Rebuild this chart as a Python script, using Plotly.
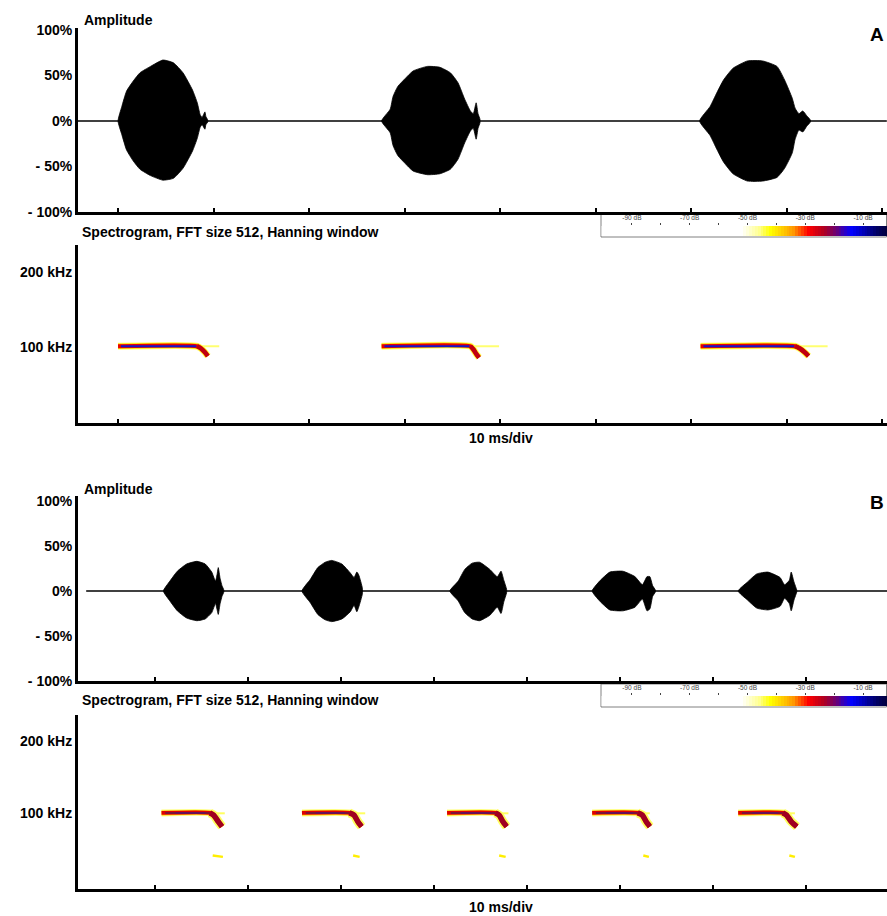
import plotly.graph_objects as go

W, H = 887, 916

# ---------------- DATA ----------------
# Panel A oscillogram: pulse envelopes (time in ms, amplitude in %)
a_pulse_times = [
    [0.0, 0.4, 0.9, 1.6, 2.3, 3.4, 4.7, 5.8, 6.8, 7.8, 8.3, 8.6, 8.8, 9.1, 9.2, 9.4],
    [27.6, 28.5, 28.8, 29.3, 30.1, 30.9, 32.4, 33.7, 34.8, 35.6, 36.3, 36.9, 37.2, 37.5, 37.7, 37.9],
    [60.9, 62.0, 62.7, 63.4, 64.4, 65.9, 67.5, 69.0, 69.8, 70.6, 70.9, 71.3, 71.7, 72.1, 72.5],
]
a_pulse_upper = [
    [0, 16, 33, 44, 53, 60, 67, 64, 53, 34, 20, 7, 4, 10, 5, 1],
    [0, 13, 27, 38, 47, 55, 60, 59, 53, 42, 24, 11, 8, 20, 8, 2],
    [0, 16, 31, 45, 58, 66, 66, 60, 45, 25, 14, 8, 11, 6, 1],
]
a_pulse_lower = [
    [0, -15, -32, -44, -53, -60, -65, -63, -52, -33, -19, -7, -4, -9, -4, -1],
    [0, -13, -27, -38, -47, -55, -59, -58, -53, -42, -24, -11, -8, -20, -8, -2],
    [0, -16, -31, -45, -58, -66, -66, -62, -52, -35, -20, -10, -12, -6, -1],
]
a_baseline_t = [-4.2, 80.5]

# Panel B oscillogram
b_pulse_times = [
    [0.9, 1.6, 2.4, 3.4, 4.5, 5.4, 6.1, 6.5, 6.7, 6.8, 7.0, 7.2, 7.4],
    [15.8, 16.7, 17.5, 18.3, 19.0, 20.1, 21.0, 21.4, 21.7, 21.9, 22.3],
    [31.7, 32.6, 33.3, 34.1, 34.9, 36.0, 36.8, 37.2, 37.5, 37.8],
    [47.0, 47.8, 48.9, 50.3, 51.6, 52.4, 52.9, 53.2, 53.5, 53.8],
    [62.7, 63.7, 64.7, 65.9, 67.2, 67.7, 68.2, 68.4, 68.7, 69.0],
]
b_pulse_upper = [
    [0, 11, 22, 30, 33, 30, 21, 11, 20, 26, 14, 6, 1],
    [0, 13, 26, 32, 34, 30, 20, 15, 21, 18, 3],
    [0, 11, 24, 31, 32, 24, 16, 22, 12, 2],
    [0, 11, 21, 22, 16, 7, 16, 16, 6, 1],
    [0, 10, 19, 21, 15, 7, 12, 21, 10, 1],
]
b_pulse_lower = [
    [0, -11, -22, -30, -33, -31, -24, -14, -22, -26, -14, -6, -1],
    [0, -13, -26, -32, -34, -31, -23, -16, -23, -18, -3],
    [0, -11, -24, -31, -33, -27, -18, -25, -12, -2],
    [0, -11, -21, -22, -18, -9, -22, -20, -6, -1],
    [0, -10, -19, -21, -17, -8, -14, -22, -10, -1],
]
b_baseline_t = [-7.4, 78.7]

# Spectrogram contours (time ms, frequency kHz)
a_spec_times = [
    [0.0, 8.3, 8.7, 9.1, 9.4],
    [27.6, 36.9, 37.2, 37.5, 37.8],
    [61.0, 70.9, 71.4, 71.9, 72.3],
]
a_spec_freqs = [
    [101, 101, 98, 93, 88],
    [101, 101, 97, 91, 86],
    [101, 101, 98, 93, 88],
]
a_tail_times = [[8.3, 10.6], [36.9, 39.9], [71.0, 74.3]]
a_tail_freqs = [[101, 101], [101, 101], [101, 101]]

b_spec_times = [
    [0.7, 5.9, 6.3, 6.8, 7.2],
    [15.8, 20.9, 21.4, 21.8, 22.2],
    [31.4, 36.6, 37.0, 37.4, 37.8],
    [47.0, 51.9, 52.4, 52.8, 53.2],
    [62.7, 67.5, 67.9, 68.4, 69.0],
]
b_spec_freqs = [
    [100, 100, 97, 88, 81],
    [100, 100, 97, 88, 81],
    [100, 100, 97, 88, 81],
    [100, 100, 97, 88, 81],
    [100, 100, 97, 88, 81],
]
b_tail_times = [[5.9, 7.5], [20.9, 22.6], [36.6, 38.0], [51.9, 53.2], [67.5, 68.8]]
b_tail_freqs = [[99.5, 99.5], [99.5, 99.5], [99.5, 99.5], [99.5, 99.5], [99.5, 99.5]]
b_blob_times = [[6.2, 7.3], [21.3, 22.0], [37.0, 37.7], [52.5, 53.1], [68.2, 68.8]]
b_blob_freqs = [[41, 39], [41, 39], [41, 39], [41, 39], [41, 39]]

# Time ticks (10 ms/div)
a_time_ticks = [0, 10, 20, 30, 40, 50, 60, 70, 80]
b_time_ticks = [0, 10, 20, 30, 40, 50, 60, 70]
amp_tickvals = [100, 50, 0, -50, -100]
amp_ticktext = ["100%", "50%", "0%", "- 50%", "- 100%"]
freq_tickvals = [200, 100]
freq_ticktext = ["200 kHz", "100 kHz"]

# Colour bar (dB)
db_values = list(range(-100, 0))
db_tickvals = [-90, -80, -70, -60, -50, -40, -30, -20, -10]
db_ticktext = ["-90 dB", "", "-70 dB", "", "-50 dB", "", "-30 dB", "", "-10 dB"]
db_colorscale = [
    [0.0, "#ffffff"], [0.49, "#ffffff"], [0.55, "#ffff90"], [0.592, "#ffff00"],
    [0.673, "#ff9900"], [0.724, "#ff0000"], [0.781, "#b00020"], [0.827, "#600080"],
    [0.878, "#0000ff"], [0.969, "#000060"], [1.0, "#000040"],
]

# ---------------- FIGURE ----------------
FONT = "Liberation Sans, Arial, sans-serif"


def py(p):
    return 1 - p / H


fig = go.Figure()


def add_osc(times, upper, lower, base_t, xa, ya):
    fig.add_trace(go.Scatter(x=base_t, y=[0, 0], mode="lines",
                             line=dict(color="black", width=1.6),
                             xaxis=xa, yaxis=ya, hoverinfo="skip", showlegend=False))
    for t, u, l in zip(times, upper, lower):
        fig.add_trace(go.Scatter(x=t + t[::-1], y=u + l[::-1], mode="lines",
                                 fill="toself", fillcolor="black",
                                 line=dict(color="black", width=0.8, shape="spline", smoothing=0.5),
                                 xaxis=xa, yaxis=ya, hoverinfo="skip", showlegend=False))


def line(x, y, color, width, xa, ya):
    fig.add_trace(go.Scatter(x=x, y=y, mode="lines",
                             line=dict(color=color, width=width, shape="spline", smoothing=0.6),
                             xaxis=xa, yaxis=ya, hoverinfo="skip", showlegend=False))


add_osc(a_pulse_times, a_pulse_upper, a_pulse_lower, a_baseline_t, "x", "y")
add_osc(b_pulse_times, b_pulse_upper, b_pulse_lower, b_baseline_t, "x3", "y3")

# Spectrogram A
for t, f in zip(a_tail_times, a_tail_freqs):
    line(t, f, "#ffff70", 2, "x2", "y2")
for t, f in zip(a_spec_times, a_spec_freqs):
    line(t, f, "#ffff80", 7, "x2", "y2")
    line(t, f, "#ffdd00", 5.5, "x2", "y2")
    line(t, f, "#e80000", 4, "x2", "y2")
    line(t[1:], f[1:], "#c00010", 4.5, "x2", "y2")
    line([t[0] + 0.3, t[1] - 0.1], f[:2], "#1515c8", 2, "x2", "y2")

# Spectrogram B
for t, f in zip(b_tail_times, b_tail_freqs):
    line(t, f, "#ffff60", 2, "x4", "y4")
for t, f in zip(b_blob_times, b_blob_freqs):
    line(t, f, "#ffee00", 2.5, "x4", "y4")
for t, f in zip(b_spec_times, b_spec_freqs):
    line(t, f, "#ffff80", 7, "x4", "y4")
    line(t[1:], f[1:], "#ffff60", 9, "x4", "y4")
    line(t, f, "#ffcc00", 5, "x4", "y4")
    line(t, f, "#e00000", 3.8, "x4", "y4")
    line(t[1:], f[1:], "#a00020", 5.5, "x4", "y4")
    line([t[0] + 0.4, t[1]], f[:2], "#80103a", 2, "x4", "y4")
    line([t[0] + 1.5, t[1] - 0.5], f[:2], "#5a1070", 1.2, "x4", "y4")

# Colour bars
for xa, ya in (("x5", "y5"), ("x6", "y6")):
    fig.add_trace(go.Heatmap(x=db_values, y=[0], z=[db_values], zmin=-100, zmax=-2,
                             colorscale=db_colorscale, showscale=False,
                             xaxis=xa, yaxis=ya, hoverinfo="skip"))

x_dom = [78 / W, 1.0]
a_xrange = [-4.19, 80.52]
b_xrange = [-8.28, 78.7]

common_x = dict(showline=True, linewidth=3, linecolor="black", ticks="inside",
                ticklen=4, tickwidth=2, tickcolor="black", showticklabels=False,
                showgrid=False, zeroline=False, fixedrange=True, automargin=False)
common_y = dict(showline=True, linewidth=3, linecolor="black", ticks="",
                showgrid=False, zeroline=False, fixedrange=True, automargin=False,
                tickfont=dict(family=FONT, size=14, color="black", weight="bold"))
cb_x = dict(side="top", range=[-100.7, -1.7], tickvals=db_tickvals, ticktext=db_ticktext,
            ticks="outside", ticklen=2, tickwidth=1, tickcolor="#444", automargin=False,
            tickfont=dict(family=FONT, size=6.5, color="#444"),
            showline=False, showgrid=False, zeroline=False, fixedrange=True)
cb_y = dict(showticklabels=False, ticks="", showline=False, showgrid=False,
            zeroline=False, fixedrange=True, automargin=False)

fig.update_layout(
    width=W, height=H, autosize=False,
    margin=dict(l=0, r=0, t=0, b=0, pad=0),
    paper_bgcolor="white", plot_bgcolor="rgba(0,0,0,0)",
    font=dict(family=FONT, size=14, color="black"),
    showlegend=False,
    xaxis=dict(domain=x_dom, range=a_xrange, tickvals=a_time_ticks, anchor="y", **common_x),
    yaxis=dict(domain=[py(212), py(28)], range=[-100, 102.2], anchor="x",
               tickvals=amp_tickvals, ticktext=amp_ticktext, **common_y),
    xaxis2=dict(domain=x_dom, range=a_xrange, tickvals=a_time_ticks, anchor="y2", **common_x),
    yaxis2=dict(domain=[py(423), py(245)], range=[-1.3, 236], anchor="x2",
                tickvals=freq_tickvals, ticktext=freq_ticktext, **common_y),
    xaxis3=dict(domain=x_dom, range=b_xrange, tickvals=b_time_ticks, anchor="y3", **common_x),
    yaxis3=dict(domain=[py(681), py(496)], range=[-100, 105.6], anchor="x3",
                tickvals=amp_tickvals, ticktext=amp_ticktext, **common_y),
    xaxis4=dict(domain=x_dom, range=b_xrange, tickvals=b_time_ticks, anchor="y4", **common_x),
    yaxis4=dict(domain=[py(889), py(715)], range=[-5.6, 236], anchor="x4",
                tickvals=freq_tickvals, ticktext=freq_ticktext, **common_y),
    xaxis5=dict(domain=[601 / W, 1.0], anchor="y5", **cb_x),
    yaxis5=dict(domain=[py(236), py(226)], range=[-0.5, 0.5], anchor="x5", **cb_y),
    xaxis6=dict(domain=[601 / W, 1.0], anchor="y6", **cb_x),
    yaxis6=dict(domain=[py(706), py(696)], range=[-0.5, 0.5], anchor="x6", **cb_y),
)

# Colour bar frames
for top, bot in ((214, 237), (684, 707)):
    fig.add_shape(type="rect", xref="paper", yref="paper",
                  x0=601 / W, x1=886.5 / W, y0=py(bot), y1=py(top),
                  line=dict(color="#808080", width=1), fillcolor="white", layer="below")

# Text
texts = [
    ("Amplitude", 82, 20, "left", 14),
    ("Spectrogram, FFT size 512, Hanning window", 80, 232, "left", 14),
    ("10 ms/div", 501, 438, "center", 14),
    ("Amplitude", 82, 489, "left", 14),
    ("Spectrogram, FFT size 512, Hanning window", 80, 700, "left", 14),
    ("10 ms/div", 501, 907, "center", 14),
    ("A", 886, 34, "right", 19),
    ("B", 886, 502, "right", 19),
]
for txt, x, y, anchor, size in texts:
    fig.add_annotation(text="<b>%s</b>" % txt, xref="paper", yref="paper",
                       x=x / W, y=py(y), xanchor=anchor, yanchor="middle",
                       showarrow=False, font=dict(family=FONT, size=size, color="black"))

fig.write_html(
    "out.html",
    config={"displayModeBar": False, "staticPlot": True},
    post_script="document.documentElement.style.margin='0';document.body.style.margin='0';"
                "document.body.style.padding='0';document.body.style.overflow='hidden';",
)
